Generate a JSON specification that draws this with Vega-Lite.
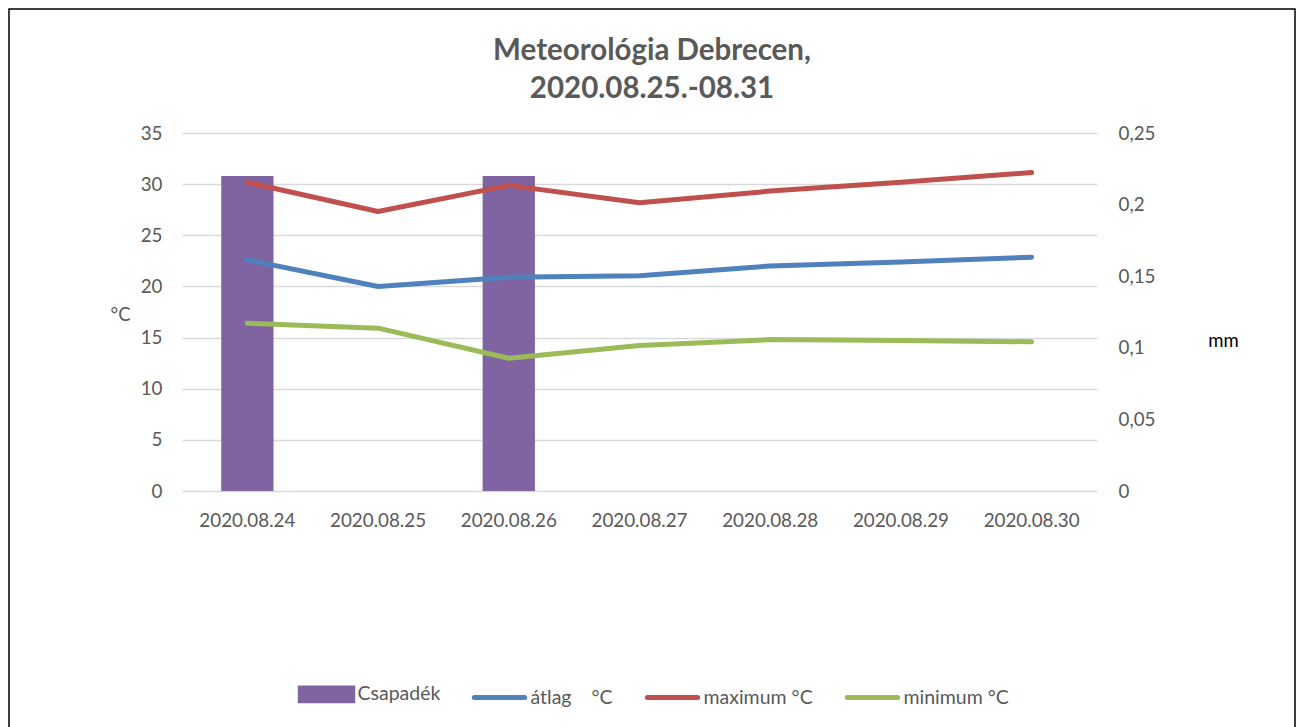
{
  "$schema": "https://vega.github.io/schema/vega-lite/v6.json",
  "width": 1286,
  "height": 724,
  "autosize": {"type": "none"},
  "padding": {"left": 9, "top": 9, "right": 3, "bottom": -6},
  "background": "white",
  "config": {
    "view": {"stroke": "#000000", "strokeWidth": 1.5},
    "font": "Lato",
    "axis": {"labelFont": "Lato", "labelFontSize": 18.8, "labelColor": "#595959", "domain": false, "ticks": false, "tickSize": 0, "titleFont": "Lato"}
  },
  "title": {
    "text": ["Meteorológia Debrecen,", "2020.08.25.-08.31"],
    "font": "Lato", "fontSize": 29.5, "fontWeight": "bold", "color": "#595959",
    "anchor": "middle", "frame": "group", "baseline": "top", "offset": -96, "lineHeight": 38.6
  },
  "datasets": {
    "rain": [
      {"date": "2020.08.24", "mm": 0.22},
      {"date": "2020.08.25", "mm": 0},
      {"date": "2020.08.26", "mm": 0.22},
      {"date": "2020.08.27", "mm": 0},
      {"date": "2020.08.28", "mm": 0},
      {"date": "2020.08.29", "mm": 0},
      {"date": "2020.08.30", "mm": 0}
    ],
    "temps": [
      {"date": "2020.08.24", "series": "átlag\u00a0\u00a0\u00a0\u00a0°C", "value": 22.6},
      {"date": "2020.08.25", "series": "átlag\u00a0\u00a0\u00a0\u00a0°C", "value": 20.0},
      {"date": "2020.08.26", "series": "átlag\u00a0\u00a0\u00a0\u00a0°C", "value": 20.9},
      {"date": "2020.08.27", "series": "átlag\u00a0\u00a0\u00a0\u00a0°C", "value": 21.04},
      {"date": "2020.08.28", "series": "átlag\u00a0\u00a0\u00a0\u00a0°C", "value": 22.0},
      {"date": "2020.08.29", "series": "átlag\u00a0\u00a0\u00a0\u00a0°C", "value": 22.4},
      {"date": "2020.08.30", "series": "átlag\u00a0\u00a0\u00a0\u00a0°C", "value": 22.86},
      {"date": "2020.08.24", "series": "maximum °C", "value": 30.17},
      {"date": "2020.08.25", "series": "maximum °C", "value": 27.33},
      {"date": "2020.08.26", "series": "maximum °C", "value": 29.88},
      {"date": "2020.08.27", "series": "maximum °C", "value": 28.18},
      {"date": "2020.08.28", "series": "maximum °C", "value": 29.32},
      {"date": "2020.08.29", "series": "maximum °C", "value": 30.19},
      {"date": "2020.08.30", "series": "maximum °C", "value": 31.14},
      {"date": "2020.08.24", "series": "minimum °C", "value": 16.41},
      {"date": "2020.08.25", "series": "minimum °C", "value": 15.92},
      {"date": "2020.08.26", "series": "minimum °C", "value": 12.98},
      {"date": "2020.08.27", "series": "minimum °C", "value": 14.23},
      {"date": "2020.08.28", "series": "minimum °C", "value": 14.8},
      {"date": "2020.08.29", "series": "minimum °C", "value": 14.71},
      {"date": "2020.08.30", "series": "minimum °C", "value": 14.59}
    ]
  },
  "encoding": {
    "x": {
      "field": "date", "type": "nominal", "sort": null,
      "scale": {"range": [173, 1088], "paddingInner": 0.6, "paddingOuter": 0.3},
      "axis": {"orient": "bottom", "offset": -242, "labelPadding": 20, "labelBaseline": "top", "labelAngle": 0, "title": null, "grid": false, "domain": false, "ticks": false}
    }
  },
  "layer": [
    {
      "data": {"name": "rain"},
      "mark": {"type": "bar", "color": "#8064A2"},
      "encoding": {
        "y": {
          "field": "mm", "type": "quantitative",
          "scale": {"domain": [0, 0.25], "range": [482, 124], "nice": false, "zero": true},
          "axis": {
            "orient": "right", "offset": -198, "values": [0, 0.05, 0.1, 0.15, 0.2, 0.25],
            "labelExpr": "replace(toString(datum.value), '.', ',')",
            "labelPadding": 21, "labelAlign": "left", "grid": false,
            "title": "mm", "titleAngle": 0, "titleX": 126, "titleY": 337, "titleColor": "#000000",
            "titleFontSize": 18.5, "titleFontWeight": "normal", "titleAlign": "center", "titleBaseline": "alphabetic"
          }
        },
        "color": {
          "datum": "Csapadék", "type": "nominal",
          "scale": {
            "domain": ["Csapadék", "átlag\u00a0\u00a0\u00a0\u00a0°C", "maximum °C", "minimum °C"],
            "range": ["#8064A2", "#4F81BD", "#C0504D", "#9BBB59"]
          },
          "legend": {
            "title": null, "orient": "none", "legendX": 288.5, "legendY": 656,
            "direction": "horizontal", "columns": 4, "symbolSize": 2750,
            "labelOffset": 2, "columnPadding": 23, "padding": 0,
            "labelFont": "Lato", "labelFontSize": 19.5, "labelColor": "#595959",
            "encode": {
              "symbols": {
                "update": {
                  "shape": {"signal": "datum.value === 'Csapadék' ? 'M-1,-0.24H1V0.24H-1Z' : 'M-0.96,0H0.96'"},
                  "fill": {"signal": "datum.value === 'Csapadék' ? '#8064A2' : 'transparent'"},
                  "stroke": {"signal": "datum.value === 'Csapadék' ? 'transparent' : scale('color', datum.value)"},
                  "strokeWidth": {"value": 5},
                  "strokeCap": {"value": "round"},
                  "opacity": {"value": 1}
                }
              }
            }
          }
        }
      }
    },
    {
      "data": {"name": "temps"},
      "mark": {"type": "line", "strokeWidth": 5, "strokeCap": "round", "strokeJoin": "round"},
      "encoding": {
        "y": {
          "field": "value", "type": "quantitative",
          "scale": {"domain": [0, 35], "range": [482, 124], "nice": false},
          "axis": {
            "orient": "left", "offset": -173, "values": [0, 5, 10, 15, 20, 25, 30, 35],
            "labelPadding": 20, "grid": true, "gridColor": "#D9D9D9", "gridWidth": 1.5,
            "title": "°C", "titleAngle": 0, "titleX": -62, "titleY": 311, "titleColor": "#595959",
            "titleFontSize": 18.5, "titleFontWeight": "normal", "titleAlign": "center", "titleBaseline": "alphabetic"
          }
        },
        "color": {"field": "series", "type": "nominal", "sort": null, "legend": {"title": null}}
      }
    }
  ],
  "resolve": {"scale": {"y": "independent"}, "axis": {"y": "independent"}}
}
